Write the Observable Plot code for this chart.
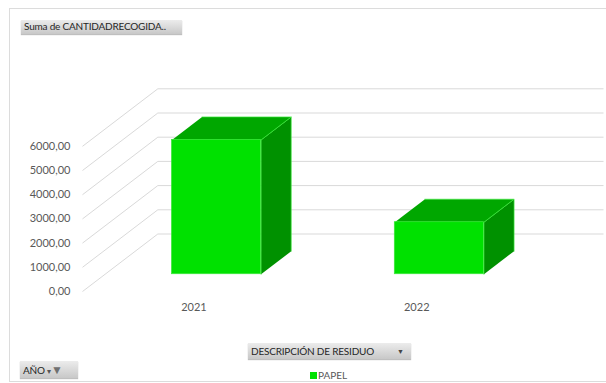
<!DOCTYPE html>
<html><head><meta charset="utf-8">
<script src="https://cdn.jsdelivr.net/npm/d3@7"></script>
<script src="https://cdn.jsdelivr.net/npm/@observablehq/plot@0.6"></script>
<style>
body{margin:0;background:#fff;font-family:Lato,"Open Sans",sans-serif}
#wrap{position:relative;width:606px;height:383px;overflow:hidden;background:#fff}
#frame{position:absolute;left:9px;top:8px;width:640px;height:372px;border:1px solid #dcdcdc}
#chart{position:absolute;left:0;top:0}
.btn{position:absolute;background:linear-gradient(#ececec,#c8c8c8);color:#262626;font-size:10px;line-height:13px;box-shadow:0 1px 1px rgba(0,0,0,.25);white-space:nowrap;letter-spacing:-0.2px}
#legend{position:absolute;left:310px;top:370px;font-size:10px;color:#595959;line-height:10px}
#legend span.sw{display:inline-block;width:7px;height:7px;background:#00e100;margin-right:1px;vertical-align:0px}
</style></head>
<body>
<div id="wrap">
  <div id="frame"></div>
  <div id="chart"></div>
  <div class="btn" style="left:21px;top:20px;width:158px;height:14px;padding-left:3px">Suma de CANTIDADRECOGIDA..</div>
  <div class="btn" style="left:248px;top:343px;width:160px;height:16px;line-height:16px;padding-left:3px">DESCRIPCIÓN DE RESIDUO<span style="position:absolute;left:149px;font-size:7px;color:#444">▼</span></div>
  <div class="btn" style="left:20px;top:361px;width:55px;height:17px;line-height:17px;padding-left:3px">AÑO <span style="font-size:8px;color:#555">▾</span><span style="color:#707070;font-size:12px">▼</span></div>
  <div id="legend"><span class="sw"></span>PAPEL</div>
</div>
<script>
// ---- data ----
const years = ["2021", "2022"];
const values = [5550, 2150];
const yTicks = [0, 1000, 2000, 3000, 4000, 5000, 6000];

// ---- oblique 3D geometry (in scale units) ----
const depthX = 0.338;   // category units per full depth
const depthY = 2376;    // value units per full depth
const half = 0.2;       // half bar width
const f0 = 0.3, f1 = 0.7;

const P = (u, v, f) => ({x: u + f * depthX, y: v + f * depthY});

const bars = years.map((yr, i) => ({i, yr, v: values[i]}));
const topFaces = bars.flatMap(b => [
  P(b.i - half, b.v, f0), P(b.i + half, b.v, f0), P(b.i + half, b.v, f1), P(b.i - half, b.v, f1)
].map(p => ({...p, id: b.yr})));
const sideFaces = bars.flatMap(b => [
  P(b.i + half, 0, f0), P(b.i + half, b.v, f0), P(b.i + half, b.v, f1), P(b.i + half, 0, f1)
].map(p => ({...p, id: b.yr})));

const fmt = d => d.toFixed(2).replace(".", ",");

const chart = Plot.plot({
  width: 606, height: 383,
  marginLeft: 82, marginRight: 3, marginTop: 0, marginBottom: 92,
  x: {type: "linear", domain: [-0.5, 1.5 + depthX], range: [82, 603]},
  y: {type: "linear", domain: [0, 10000], range: [291, 49]},
  style: {background: "transparent", fontFamily: "Lato, sans-serif", fontSize: "11px", color: "#595959"},
  marks: [
    Plot.link(yTicks, {x1: () => -0.5, y1: d => d, x2: () => -0.5 + depthX, y2: d => d + depthY, stroke: "#d9d9d9", strokeWidth: 1}),
    Plot.link(yTicks, {x1: () => -0.5 + depthX, x2: () => 1.5 + depthX, y1: d => d + depthY, y2: d => d + depthY, stroke: "#d9d9d9", strokeWidth: 1}),
    Plot.line(sideFaces, {x: "x", y: "y", z: "id", fill: "#009100", stroke: "#3ee83e", strokeWidth: 0.7, strokeLinejoin: "round"}),
    Plot.line(topFaces, {x: "x", y: "y", z: "id", fill: "#00a700", stroke: "#3ee83e", strokeWidth: 0.7, strokeLinejoin: "round"}),
    Plot.rect(bars, {
      x1: b => b.i - half + f0 * depthX, x2: b => b.i + half + f0 * depthX,
      y1: () => f0 * depthY, y2: b => f0 * depthY + b.v,
      fill: "#00e100", stroke: "#3ee83e", strokeWidth: 0.7
    }),
    Plot.axisY(yTicks, {anchor: "left", tickSize: 0, tickPadding: 12, tickFormat: fmt, label: null, fontSize: 11, fill: "#595959"}),
    Plot.axisX([0, 1], {anchor: "bottom", tickSize: 0, tickPadding: 12, tickFormat: i => years[i], label: null, fontSize: 11, fill: "#595959"})
  ]
});
document.getElementById("chart").appendChild(chart);
</script>
</body></html>
